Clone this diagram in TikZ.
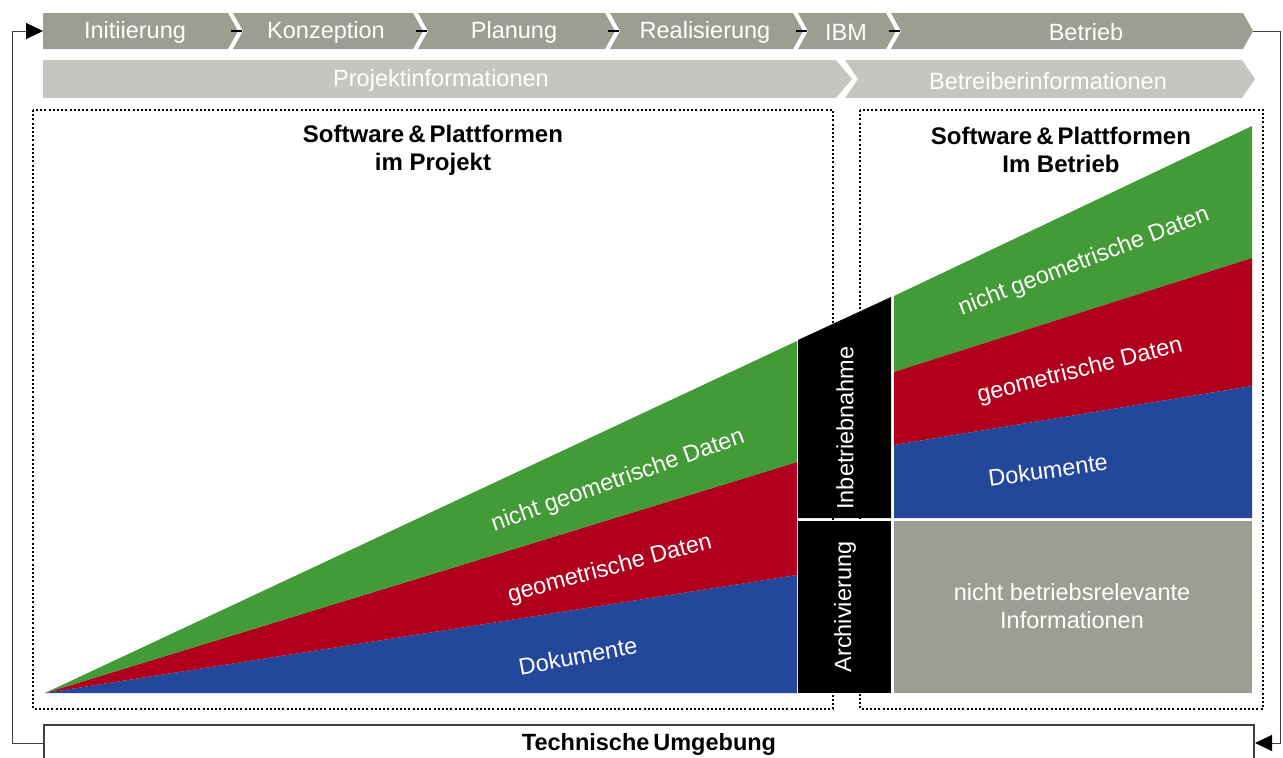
\documentclass[tikz,border=0pt]{standalone}
\usepackage{fontspec}
\setmainfont{Liberation Sans}
\usetikzlibrary{arrows.meta}
\definecolor{phasegray}{RGB}{157,158,145}
\definecolor{infogray}{RGB}{197,198,191}
\definecolor{dgreen}{RGB}{67,155,56}
\definecolor{dred}{RGB}{176,0,30}
\definecolor{dblue}{RGB}{35,71,155}
\definecolor{linegray}{RGB}{64,64,64}
\tikzset{
  wlabel/.style={text=white,font=\fontsize{23.5}{28}\selectfont,inner sep=0pt,align=center},
  heading/.style={text=black,font=\bfseries\fontsize{24}{28}\selectfont,inner sep=0pt,align=center},
  phase/.style={fill=phasegray,draw=none},
  info/.style={fill=infogray,draw=none},
  dotbox/.style={draw=black,line width=2pt,dash pattern=on 2pt off 2.2pt},
  flow/.style={draw=linegray,line width=1pt},
  tick/.style={draw=black,line width=1.6pt},
  arrowtip/.style={-{Triangle[length=17pt,width=16pt,color=black,fill=black]}}
}
\begin{document}
\begin{tikzpicture}[x=1pt,y=-1pt]
\useasboundingbox (0,0) rectangle (1283,758);
% phase chevrons
\fill[phase] (43,13) -- (228,13) -- (238,31) -- (228,49) -- (43,49) -- cycle;
\fill[phase] (233,13) -- (413,13) -- (423,31) -- (413,49) -- (233,49) -- (243,31) -- cycle;
\fill[phase] (418,13) -- (605,13) -- (615,31) -- (605,49) -- (418,49) -- (428,31) -- cycle;
\fill[phase] (610,13) -- (793,13) -- (803,31) -- (793,49) -- (610,49) -- (620,31) -- cycle;
\fill[phase] (798,13) -- (886,13) -- (896,31) -- (886,49) -- (798,49) -- (808,31) -- cycle;
\fill[phase] (891,13) -- (1243,13) -- (1253,31) -- (1243,49) -- (891,49) -- (901,31) -- cycle;
\coordinate (p1in) at (43,31);
\coordinate (t1) at (231,31); \coordinate (n2) at (242,31);
\coordinate (t2) at (416,31); \coordinate (n3) at (427,31);
\coordinate (t3) at (608,31); \coordinate (n4) at (619,31);
\coordinate (t4) at (796,31); \coordinate (n5) at (807,31);
\coordinate (t5) at (889,31); \coordinate (n6) at (900,31);
\coordinate (t6) at (1253,31);
\draw[tick] (t1) -- (n2);
\draw[tick] (t2) -- (n3);
\draw[tick] (t3) -- (n4);
\draw[tick] (t4) -- (n5);
\draw[tick] (t5) -- (n6);
\node[wlabel] (ph1) at (135,32) {Initiierung};
\node[wlabel] (ph2) at (326,32) {Konzeption};
\node[wlabel] (ph3) at (514,32) {Planung};
\node[wlabel] (ph4) at (705,32) {Realisierung};
\node[wlabel] (ph5) at (846,32) {IBM};
\node[wlabel] (ph6) at (1086,32) {Betrieb};
% information row
\fill[info] (43,60) -- (836,60) -- (852,79) -- (836,98) -- (43,98) -- cycle;
\fill[info] (845,60) -- (1242,60) -- (1255,79) -- (1242,98) -- (845,98) -- (858,79) -- cycle;
\node[wlabel] (pinfo) at (441,80) {Projektinformationen};
\node[wlabel] (binfo) at (1048,81) {Betreiberinformationen};
% dotted frames
\draw[dotbox] (33,110) rectangle (833,709);
\draw[dotbox] (860,110) rectangle (1263,709);
% project wedges
\fill[dblue] (45,693) -- (797,575) -- (797,693) -- cycle;
\fill[dred] (45,693) -- (797,462) -- (797,575) -- cycle;
\fill[dgreen] (45,693) -- (797,341) -- (797,462) -- cycle;
% black transition boxes
\fill[black] (798,340) -- (891,297) -- (891,518) -- (798,518) -- cycle;
\fill[black] (798,521) rectangle (891,693);
% operation area
\fill[dgreen] (894,296) -- (1252,126) -- (1252,258) -- (894,372) -- cycle;
\fill[dred] (894,372) -- (1252,258) -- (1252,386) -- (894,445) -- cycle;
\fill[dblue] (894,445) -- (1252,386) -- (1252,518) -- (894,518) -- cycle;
\fill[phasegray] (894,521) rectangle (1252,693);
% headings
\node[heading] (h1) at (433,150) {Software\,\&\,Plattformen\\im Projekt};
\node[heading] (h2) at (1061,150) {Software\,\&\,Plattformen\\Im Betrieb};
% wedge labels
\node[wlabel,rotate=19.5] (l1) at (618,481) {nicht geometrische Daten};
\node[wlabel,rotate=15] (l2) at (610,569) {geometrische Daten};
\node[wlabel,rotate=10.5] (l3) at (578,656) {Dokumente};
\node[wlabel,rotate=21] (r1) at (1084,262) {nicht geometrische Daten};
\node[wlabel,rotate=14] (r2) at (1080,371) {geometrische Daten};
\node[wlabel,rotate=8] (r3) at (1048,470) {Dokumente};
\node[wlabel] (r4) at (1072,606) {nicht betriebsrelevante\\Informationen};
\node[wlabel,rotate=90] (ib) at (845,428) {Inbetriebnahme};
\node[wlabel,rotate=90] (ar) at (845,607) {Archivierung};
% technical environment
\draw[draw=linegray,line width=1.2pt] (44,770) -- (44,725) -- (1254,725) -- (1254,770);
\coordinate (tul) at (44,743);
\coordinate (tur) at (1255,743);
\node[heading,font=\bfseries\fontsize{23.5}{28}\selectfont] (tu) at (649,744) {Technische\,Umgebung};
% feedback connectors
\draw[flow,arrowtip] (tul) -- (12,743) -- (12,31) -- (p1in);
\draw[flow,arrowtip] (t6) -- (1280,31) -- (1280,743) -- (tur);
\end{tikzpicture}
\end{document}
